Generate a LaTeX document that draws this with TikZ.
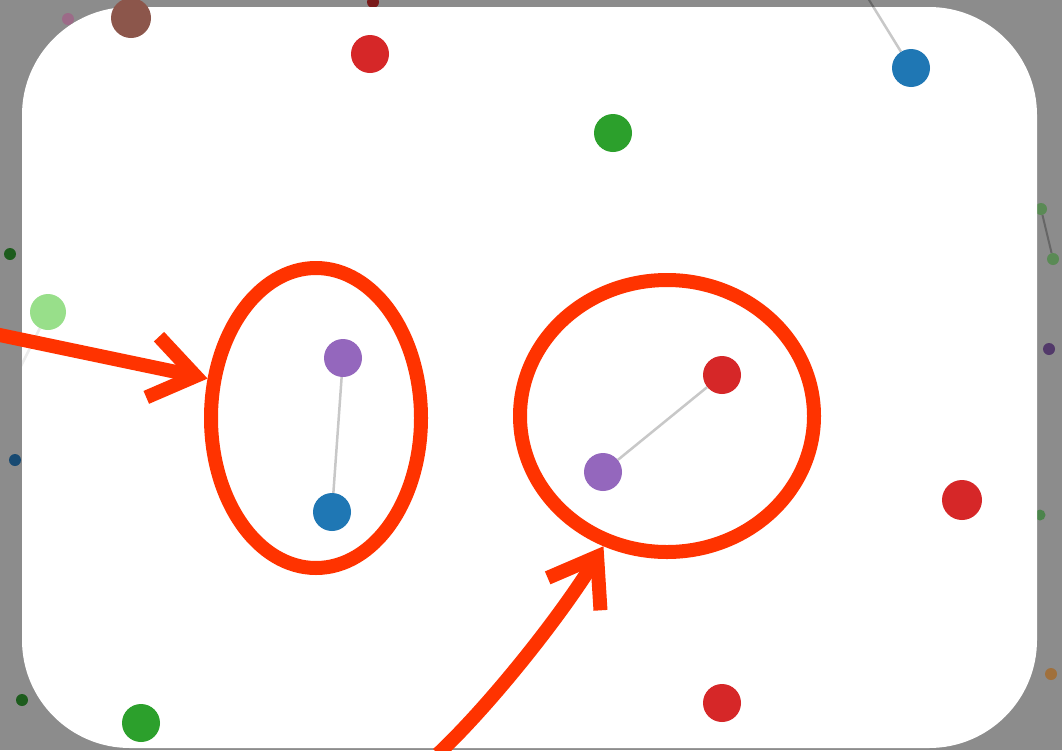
\documentclass[tikz,border=0pt]{standalone}
\usetikzlibrary{arrows.meta,shapes.geometric,backgrounds}

\definecolor{bggray}{HTML}{8C8C8C}
\definecolor{mark}{HTML}{FF3300}
\definecolor{linkgray}{HTML}{C8C8C8}
\definecolor{farlink}{HTML}{666666}
\definecolor{tblue}{HTML}{1F77B4}
\definecolor{tred}{HTML}{D62728}
\definecolor{tgreen}{HTML}{2CA02C}
\definecolor{tpurple}{HTML}{9467BD}
\definecolor{tbrown}{HTML}{8C564B}
\definecolor{tlgreen}{HTML}{98DF8A}
% dimmed colours of the nodes lying outside the panel
\definecolor{dpink}{HTML}{9C6B88}
\definecolor{dred}{HTML}{7A1A1A}
\definecolor{dgreen}{HTML}{1D5C1D}
\definecolor{dblue}{HTML}{184A72}
\definecolor{dlgreen}{HTML}{5A8A55}
\definecolor{dpurple}{HTML}{52396A}
\definecolor{dmgreen}{HTML}{4C844C}
\definecolor{dorange}{HTML}{A0703C}

\begin{document}
\begin{tikzpicture}[x=1pt,y=-1pt,
  dot/.style={circle,fill=#1,minimum size=38pt,inner sep=0pt},
  fardot/.style={circle,fill=#1,minimum size=12pt,inner sep=0pt},
  link/.style={draw=linkgray,line width=2.5pt},
  faintlink/.style={draw=black!8,line width=2.5pt},
  outlink/.style={draw=farlink,line width=2pt},
  ring/.style={ellipse,draw=mark,line width=14pt,inner sep=0pt},
  pointer/.style={draw=mark,line width=14pt,
    -{Straight Barb[sharp,length=44pt,width=62pt]}}]

\useasboundingbox (0,0) rectangle (1062,750);

% nodes inside the panel
\node[dot=tbrown,minimum size=40pt] (brown) at (131,18) {};
\node[dot=tred] (redtop) at (370,54) {};
\node[dot=tgreen] (greentop) at (613,133) {};
\node[dot=tblue] (bluetop) at (911,68) {};
\node[dot=tlgreen,minimum size=36pt] (lgreen) at (48,312) {};
\node[dot=tpurple] (pa) at (343,358) {};
\node[dot=tblue] (ba) at (332,512) {};
\node[dot=tred] (rb) at (722,375) {};
\node[dot=tpurple] (pb) at (603,472) {};
\node[dot=tred,minimum size=40pt] (redright) at (962,500) {};
\node[dot=tred] (redbottom) at (722,703) {};
\node[dot=tgreen] (greenbottom) at (141,723) {};

\coordinate (offtop) at (866,-5);
\coordinate (offleft) at (-20,448);

\begin{scope}[on background layer]
  \fill[bggray] (0,0) rectangle (1062,750);
  % nodes outside the panel
  \node[fardot=dpink] (f1) at (68,19) {};
  \node[fardot=dred] (f2) at (373,2) {};
  \node[fardot=dgreen] (f3) at (10,254) {};
  \node[fardot=dblue] (f4) at (15,460) {};
  \node[fardot=dgreen] (f5) at (22,700) {};
  \node[fardot=dlgreen] (f6) at (1041,209) {};
  \node[fardot=dlgreen] (f7) at (1053,259) {};
  \node[fardot=dpurple] (f8) at (1049,349) {};
  \node[fardot=dmgreen,minimum size=11pt] (f9) at (1040,515) {};
  \node[fardot=dorange] (f10) at (1051,674) {};
  \draw[outlink] (f6) -- (f7);
  \draw[outlink] (bluetop) -- (offtop);
  % the panel
  \fill[white,rounded corners=108pt] (22,7) rectangle (1037,748);
  \begin{scope}
    \clip[rounded corners=108pt] (22,7) rectangle (1037,748);
    \draw[link] (bluetop) -- (offtop);
    \draw[faintlink] (lgreen) -- (offleft);
  \end{scope}
  \draw[link] (pa) -- (ba);
  \draw[link] (pb) -- (rb);
\end{scope}

% highlighted pairs
\node[ring,minimum width=210pt,minimum height=300pt] (e1) at (316,418) {};
\node[ring,minimum width=294pt,minimum height=272pt] (e2) at (667,416) {};

% arrows pointing at the highlighted pairs
\coordinate (a1) at (-5,334);
\coordinate (a2) at (438,754);
\draw[pointer] (a1) -- (e1.160);
\draw[pointer] (a2) .. controls (490,705) and (560,617) .. (e2.244);
\end{tikzpicture}
\end{document}
